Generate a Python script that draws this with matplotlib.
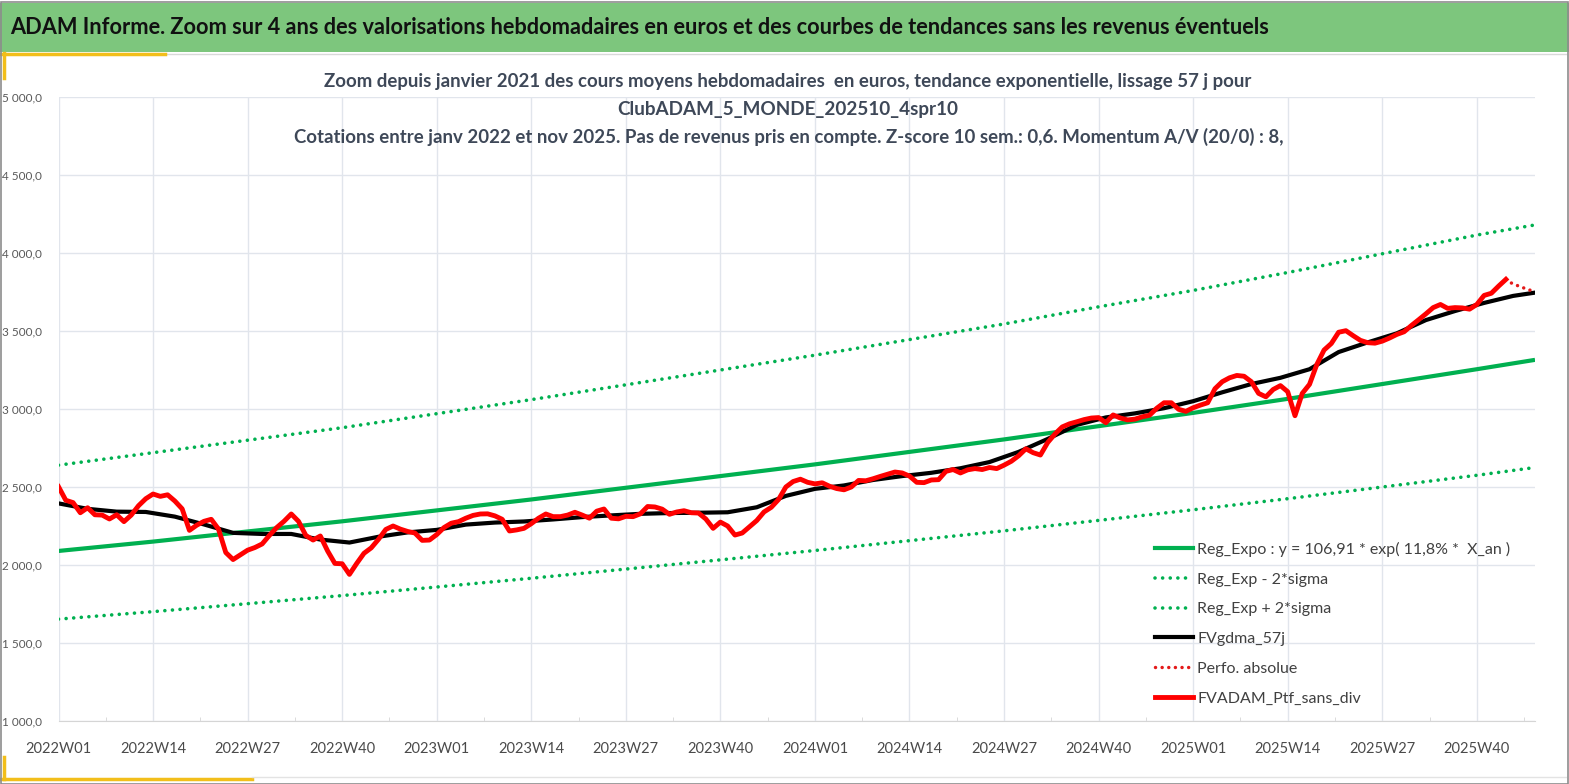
import matplotlib
matplotlib.use("Agg")
import matplotlib.pyplot as plt
from matplotlib.lines import Line2D
from matplotlib.patches import Rectangle
import numpy as np

# ---------------- data ----------------
tick_labels = ["2022W01", "2022W14", "2022W27", "2022W40",
               "2023W01", "2023W14", "2023W27", "2023W40",
               "2024W01", "2024W14", "2024W27", "2024W40",
               "2025W01", "2025W14", "2025W27", "2025W40"]
n_weeks = 204  # 2022W01 .. 2025W48

# weekly portfolio value (FVADAM_Ptf_sans_div), weeks 0..199
ptf_values = [
    2502, 2415, 2400, 2335, 2367, 2322, 2320, 2295, 2322, 2278,
    2320, 2380, 2425, 2455, 2440, 2450, 2410, 2360, 2222, 2255,
    2280, 2293, 2230, 2080, 2035, 2065, 2095, 2112, 2135, 2190,
    2240, 2280, 2327, 2280, 2190, 2160, 2186, 2090, 2010, 2008,
    1940, 2010, 2075, 2110, 2165, 2228, 2250, 2230, 2215, 2205,
    2158, 2160, 2195, 2240, 2268, 2278, 2300, 2318, 2327, 2328,
    2315, 2293, 2218, 2225, 2235, 2265, 2300, 2327, 2310, 2310,
    2320, 2338, 2320, 2300, 2345, 2359, 2300, 2296, 2312, 2310,
    2328, 2375, 2372, 2358, 2325, 2340, 2348, 2335, 2333, 2295,
    2235, 2275, 2250, 2192, 2205, 2245, 2285, 2340, 2370, 2420,
    2500, 2535, 2550, 2530, 2520, 2527, 2505, 2490, 2482, 2500,
    2542, 2540, 2553, 2568, 2582, 2596, 2590, 2570, 2530, 2528,
    2545, 2547, 2600, 2612, 2590, 2610, 2618, 2612, 2625, 2618,
    2640, 2665, 2700, 2745, 2720, 2705, 2785, 2840, 2885, 2905,
    2918, 2932, 2942, 2945, 2912, 2962, 2942, 2930, 2935, 2950,
    2960, 3005, 3040, 3040, 2998, 2985, 3008, 3025, 3040, 3130,
    3175, 3200, 3215, 3210, 3175, 3100, 3078, 3125, 3150, 3111,
    2957, 3100, 3158, 3285, 3378, 3420, 3492, 3502, 3470, 3440,
    3425, 3422, 3435, 3455, 3478, 3495, 3535, 3572, 3610, 3650,
    3670, 3645, 3650, 3648, 3640, 3670, 3728, 3742, 3788, 3831,
]

# Perfo. absolue (dotted continuation), weeks 199..203
perfo_weeks = [199, 200, 201, 202, 203]
perfo_values = [3831, 3800, 3785, 3765, 3755]

# FVgdma_57j (smoothed), sampled weeks
gdma_weeks = [0, 4, 8, 12, 16, 20, 24, 28, 32, 36, 40, 44, 48, 52, 56, 60,
              64, 68, 72, 76, 80, 84, 88, 92, 96, 100, 104, 108, 112, 116,
              120, 124, 128, 132, 136, 140, 144, 148, 152, 156, 160, 164,
              168, 172, 176, 180, 184, 188, 192, 196, 200, 203]
gdma_values = [2395, 2360, 2342, 2340, 2310, 2260, 2206, 2199, 2199, 2163,
               2144, 2181, 2209, 2225, 2259, 2272, 2279, 2292, 2307, 2318,
               2328, 2333, 2335, 2338, 2370, 2443, 2488, 2510, 2545, 2570,
               2591, 2620, 2660, 2725, 2808, 2898, 2946, 2972, 3005, 3050,
               3107, 3160, 3200, 3255, 3365, 3427, 3485, 3570, 3628, 3680,
               3725, 3746]

# regression curves, sampled weeks
reg_weeks = [0, 13, 26, 39, 52, 65, 78, 91, 104, 117, 130, 143, 156, 169,
             182, 195, 203]
reg_expo = [2090, 2150, 2215, 2280, 2350, 2420, 2495, 2570, 2645, 2725,
            2805, 2890, 2975, 3065, 3160, 3255, 3315]
reg_plus = [2640, 2720, 2800, 2880, 2970, 3060, 3155, 3250, 3345, 3445,
            3545, 3655, 3760, 3875, 3995, 4115, 4180]
reg_minus = [1653, 1701, 1752, 1804, 1859, 1915, 1974, 2033, 2093, 2156,
             2219, 2286, 2354, 2425, 2500, 2575, 2625]

y_ticks = [1000, 1500, 2000, 2500, 3000, 3500, 4000, 4500, 5000]

title = ("ADAM Informe. Zoom sur 4 ans des valorisations hebdomadaires en euros "
         "et des courbes de tendances sans les revenus éventuels")
sub1 = ("Zoom depuis janvier 2021 des cours moyens hebdomadaires  en euros, "
        "tendance exponentielle, lissage 57 j pour")
sub2 = "ClubADAM_5_MONDE_202510_4spr10"
sub3 = ("Cotations entre janv 2022 et nov 2025. Pas de revenus pris en compte. "
        "Z-score 10 sem.: 0,6. Momentum A/V (20/0) : 8,")

lbl_reg = "Reg_Expo : y = 106,91 * exp( 11,8% *  X_an )"
lbl_minus = "Reg_Exp - 2*sigma"
lbl_plus = "Reg_Exp + 2*sigma"
lbl_gdma = "FVgdma_57j"
lbl_perfo = "Perfo. absolue"
lbl_ptf = "FVADAM_Ptf_sans_div"

# ---------------- figure ----------------
W, H = 1569, 784
FONT = ["Lato", "DejaVu Sans"]
plt.rcParams["font.family"] = FONT
fig = plt.figure(figsize=(W / 100, H / 100), dpi=100)
fig.patch.set_facecolor("white")


def fx(px):
    return px / W


def fy(py):
    return 1 - py / H


renderer = fig.canvas.get_renderer()


def fit_text(x, y, s, target_w, size0=12, **kw):
    t = fig.text(fx(x), fy(y), s, fontsize=size0, **kw)
    w = t.get_window_extent(renderer=renderer).width
    t.set_fontsize(size0 * target_w / w)
    return t


# title banner
fig.patches.append(Rectangle((0, fy(52)), 1, fy(3) - fy(52), transform=fig.transFigure,
                             facecolor="#7DC67D", edgecolor="none", zorder=0))
fit_text(10, 28, title, 1266, size0=15, va="center", ha="left",
         color="#111111", fontweight="bold")
# accent lines
fig.add_artist(Line2D([fx(165), fx(1566)], [fy(53.5), fy(53.5)], color="#D9D9D9", lw=1))
fig.add_artist(Line2D([0, fx(165)], [fy(53.5), fy(53.5)], color="#F2BE1A", lw=2.5))
fig.add_artist(Line2D([fx(3.5), fx(3.5)], [fy(53), fy(78)], color="#F2BE1A", lw=2.5))
fig.add_artist(Line2D([fx(3.5), fx(3.5)], [fy(757), fy(779)], color="#F2BE1A", lw=2.5))
fig.add_artist(Line2D([0, fx(252)], [fy(778.5), fy(778.5)], color="#F2BE1A", lw=2.5))
fig.add_artist(Line2D([fx(252), fx(1566)], [fy(777), fy(777)], color="#E3E3E3", lw=1))
# outer frame
fig.patches.append(Rectangle((fx(0.5), fy(783.5)), fx(1567.5), fy(1.5) - fy(783.5),
                             transform=fig.transFigure, facecolor="none",
                             edgecolor="#8C8C8C", lw=1.2, zorder=5))

# subtitles
sub_col = "#3E4858"
fit_text(788, 82, sub1, 927, size0=13, ha="center", va="center", color=sub_col, fontweight="bold")
fit_text(788, 110, sub2, 341, size0=13, ha="center", va="center", color=sub_col, fontweight="bold")
fit_text(789, 137, sub3, 986, size0=13, ha="center", va="center", color=sub_col, fontweight="bold")

# axes
x0, x1, y0, y1 = 58.5, 1535, 97, 721
ax = fig.add_axes([fx(x0), fy(y1), fx(x1 - x0), fy(y0) - fy(y1)])
ax.set_facecolor("none")
ax.set_xlim(0, n_weeks - 1)
ax.set_ylim(1000, 5000)

major = list(range(0, 13 * len(tick_labels), 13))
ax.set_xticks(major)
ax.set_xticklabels(tick_labels)
ax.set_xticks([m + 6.5 for m in major], minor=True)
ax.set_yticks(y_ticks)
ax.set_yticklabels([f"{v:,.1f}".replace(",", " ").replace(".", ",") for v in y_ticks])

grid_col = "#E1E5EC"
ax.grid(True, which="major", color=grid_col, lw=1)
ax.set_axisbelow(True)
for s in ["top", "right", "left"]:
    ax.spines[s].set_visible(False)
ax.spines["bottom"].set_color("#D5D5D5")
ax.tick_params(axis="x", which="major", length=0, pad=15, labelsize=10.5, labelcolor="#4A4A4A")
ax.tick_params(axis="x", which="minor", length=3, direction="in", color="#D5D5D5")
ax.tick_params(axis="y", length=0, pad=12, labelsize=8.5, labelcolor="#595959")

GREEN = "#00B050"
DOT_G = (0, (0.01, 2.1))
DOT_R = (0, (0.01, 1.9))
ax.plot(reg_weeks, reg_plus, color=GREEN, lw=2.6, linestyle=DOT_G,
        dash_capstyle="round", zorder=2)
ax.plot(reg_weeks, reg_minus, color=GREEN, lw=2.6, linestyle=DOT_G,
        dash_capstyle="round", zorder=2)
ax.plot(reg_weeks, reg_expo, color=GREEN, lw=3.0, zorder=3, solid_capstyle="butt")
ax.plot(gdma_weeks, gdma_values, color="black", lw=3.0, zorder=4)
ax.plot(perfo_weeks, perfo_values, color="#E41A1A", lw=2.5, linestyle=DOT_R,
        dash_capstyle="round", zorder=5)
ax.plot(range(len(ptf_values)), ptf_values, color="#FF0000", lw=3.5, zorder=6,
        solid_joinstyle="round")

# legend
handles = [
    Line2D([], [], color=GREEN, lw=3.0),
    Line2D([], [], color=GREEN, lw=2.6, linestyle=DOT_G, dash_capstyle="round"),
    Line2D([], [], color=GREEN, lw=2.6, linestyle=DOT_G, dash_capstyle="round"),
    Line2D([], [], color="black", lw=3.0),
    Line2D([], [], color="#E41A1A", lw=2.5, linestyle=DOT_R, dash_capstyle="round"),
    Line2D([], [], color="#FF0000", lw=3.5),
]
labels = [lbl_reg, lbl_minus, lbl_plus, lbl_gdma, lbl_perfo, lbl_ptf]
leg = ax.legend(handles, labels, loc="upper left",
                bbox_to_anchor=(fx(1155), fy(542)), bbox_transform=fig.transFigure,
                frameon=False, fontsize=11.5, labelspacing=0.97, handlelength=2.35,
                handletextpad=0.3, borderpad=0, borderaxespad=0)
for t in leg.get_texts():
    t.set_color("#404040")

fig.savefig("out.png", dpi=100)
